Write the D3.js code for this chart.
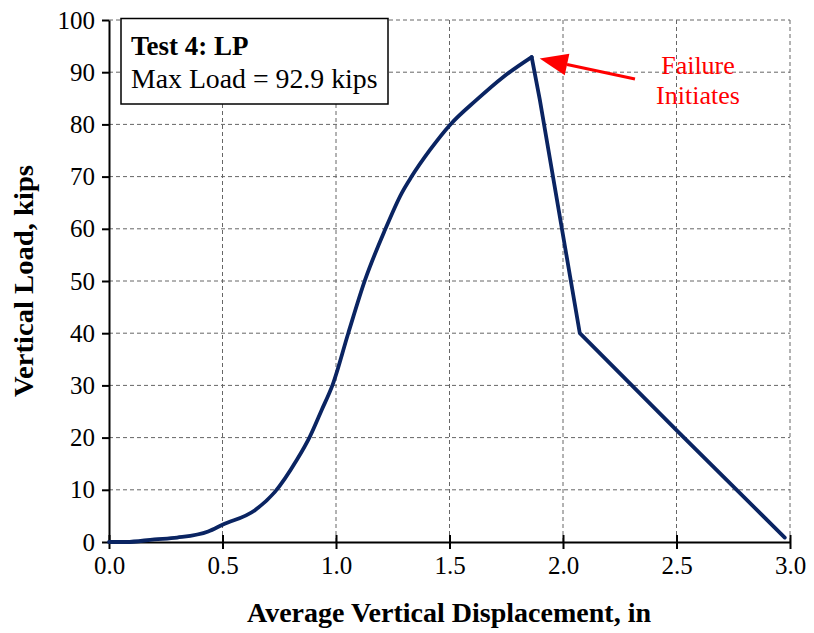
<!DOCTYPE html>
<html><head><meta charset="utf-8">
<script src="https://cdn.jsdelivr.net/npm/d3@7"></script>
<style>body{margin:0;background:#fff}text{font-family:"Liberation Serif","Times New Roman",serif}</style>
</head><body><svg id="c" width="814" height="633"></svg>
<script>
const dispX = [0.0,0.076,0.20,0.30,0.437,0.50,0.643,0.731,0.827,0.885,0.937,0.985,1.054,1.128,1.216,1.289,1.333,1.414,1.502,1.619,1.737,1.862,1.898,2.074,2.514,2.977];
const loadY = [0.0,0.0,0.5,0.85,2.0,3.3,6.1,9.6,15.7,20.2,25.3,30.1,40.0,50.2,59.8,66.8,70.0,75.1,79.9,84.7,89.1,92.9,84.7,40.0,20.8,0.85];
const xTicks = [0.0,0.5,1.0,1.5,2.0,2.5,3.0];
const yTicks = [0,10,20,30,40,50,60,70,80,90,100];
const xTitle = "Average Vertical Displacement, in";
const yTitle = "Vertical Load, kips";
const legendTitle = "Test 4: LP";
const legendText = "Max Load = 92.9 kips";
const annText = ["Failure","Initiates"];

const svg = d3.select("#c");
const L=109, R=790, T=20, B=542;
const x = d3.scaleLinear().domain([0,3]).range([L,R]);
const y = d3.scaleLinear().domain([0,100]).range([B,T]);

// grid
const g = svg.append("g");
g.selectAll(".gx").data(xTicks.filter(d=>d>0)).join("line")
 .attr("x1",d=>x(d)).attr("x2",d=>x(d)).attr("y1",T).attr("y2",B)
 .attr("stroke","#666").attr("stroke-width",1).attr("stroke-dasharray","4,3");
g.selectAll(".gy").data(yTicks.filter(d=>d>0)).join("line")
 .attr("x1",L).attr("x2",R).attr("y1",d=>y(d)).attr("y2",d=>y(d))
 .attr("stroke","#666").attr("stroke-width",1).attr("stroke-dasharray","4,3");

// axes
const xa = svg.append("g").attr("transform",`translate(0,${B})`)
 .call(d3.axisBottom(x).tickValues(xTicks).tickFormat(d3.format(".1f")).tickSize(0).tickPadding(14));
xa.select(".domain").attr("stroke","#000").attr("stroke-width",2);
xa.selectAll(".tick").append("line").attr("y1",-7).attr("y2",7).attr("stroke","#000").attr("stroke-width",2);
xa.selectAll("text").attr("font-size",25).attr("fill","#000").attr("font-family","Liberation Serif");

const ya = svg.append("g").attr("transform",`translate(${L},0)`)
 .call(d3.axisLeft(y).tickValues(yTicks).tickSize(0).tickPadding(14));
ya.select(".domain").attr("stroke","#000").attr("stroke-width",2);
ya.selectAll(".tick").append("line").attr("x1",-7).attr("x2",0).attr("stroke","#000").attr("stroke-width",2);
ya.selectAll("text").attr("font-size",25).attr("fill","#000").attr("font-family","Liberation Serif");

// line: smooth rising part up to the peak, straight segments after it
const pts = dispX.map((d,i)=>[d,loadY[i]]);
const iPeak = d3.maxIndex(loadY);
const peak = pts[iPeak];
const lineStyle = p => p.attr("fill","none").attr("stroke","#0a2462").attr("stroke-width",3.8)
  .attr("stroke-linejoin","round").attr("stroke-linecap","round");
svg.append("path").datum(pts.slice(0,iPeak+1))
 .attr("d",d3.line().x(d=>x(d[0])).y(d=>y(d[1])).curve(d3.curveMonotoneX)).call(lineStyle);
svg.append("path").datum(pts.slice(iPeak))
 .attr("d",d3.line().x(d=>x(d[0])).y(d=>y(d[1]))).call(lineStyle);

// titles
svg.append("text").attr("x",449).attr("y",622).attr("text-anchor","middle")
 .attr("font-size",28).attr("font-weight","bold")
 .attr("textLength",404).attr("lengthAdjust","spacingAndGlyphs").text(xTitle);
svg.append("text").attr("transform","translate(33,281) rotate(-90)").attr("text-anchor","middle")
 .attr("font-size",28).attr("font-weight","bold")
 .attr("textLength",232).attr("lengthAdjust","spacingAndGlyphs").text(yTitle);

// legend box
svg.append("rect").attr("x",121).attr("y",18.5).attr("width",267).attr("height",85.5)
 .attr("fill","#fff").attr("stroke","#000").attr("stroke-width",1.5);
svg.append("text").attr("x",131).attr("y",55).attr("font-size",27).attr("font-weight","bold").text(legendTitle);
svg.append("text").attr("transform","translate(131,88) scale(1.03,1)").attr("font-size",27).text(legendText);

// annotation arrow
const tipX = x(peak[0])+8, tipY = y(peak[1])+1.5;
const tailX = 635, tailY = 79;
const ang = Math.atan2(tailY-tipY, tailX-tipX);
const hl=28, hw=11;
const bx = tipX+hl*Math.cos(ang), by = tipY+hl*Math.sin(ang);
svg.append("line").attr("x1",bx).attr("y1",by).attr("x2",tailX).attr("y2",tailY)
 .attr("stroke","#ff0000").attr("stroke-width",3);
svg.append("path").attr("d",`M${tipX},${tipY}L${bx-hw*Math.sin(ang)},${by+hw*Math.cos(ang)}L${bx+hw*Math.sin(ang)},${by-hw*Math.cos(ang)}Z`)
 .attr("fill","#ff0000");
svg.append("text").attr("x",698).attr("y",74).attr("text-anchor","middle").attr("font-size",26).attr("fill","#ff0000").text(annText[0]);
svg.append("text").attr("x",698).attr("y",104).attr("text-anchor","middle").attr("font-size",26).attr("fill","#ff0000").text(annText[1]);
</script></body></html>
